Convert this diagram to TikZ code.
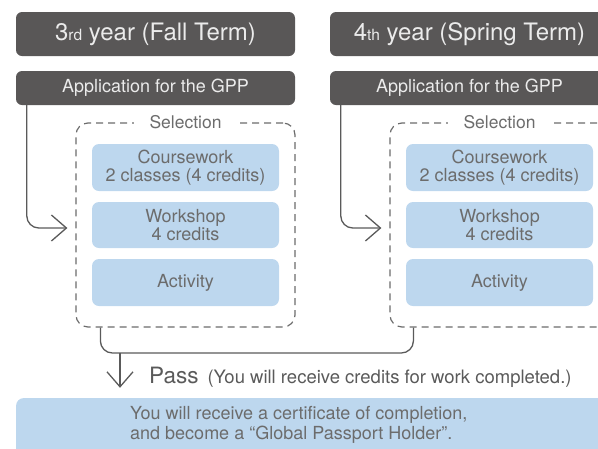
\documentclass[tikz,border=0pt]{standalone}
\usepackage{fontspec}
\setmainfont{TeX Gyre Heros}
\usetikzlibrary{arrows.meta}
\definecolor{dark}{HTML}{595757}
\definecolor{lblue}{HTML}{BDD7EE}
\definecolor{tgray}{HTML}{6C6C6C}
\definecolor{lgray}{HTML}{5A5A5A}
\begin{document}
\begin{tikzpicture}[x=1pt,y=-1pt,
  hdr/.style={fill=dark, rounded corners=6pt, minimum width=279pt, inner sep=0pt, text=white!92!black},
  titlebox/.style={hdr, minimum height=44pt, font=\fontsize{24}{24}\selectfont},
  appbox/.style={hdr, minimum height=34pt, font=\fontsize{18}{18}\selectfont},
  selbox/.style={draw=tgray, line width=1.2pt, dash pattern=on 7pt off 5pt, rounded corners=12pt, minimum width=219pt, minimum height=204pt, inner sep=0pt},
  sellabel/.style={fill=white, text=tgray, inner xsep=16pt, inner ysep=2pt, font=\fontsize{17.5}{17.5}\selectfont},
  bluebox/.style={fill=lblue, rounded corners=7pt, minimum width=187pt, minimum height=47pt, inner sep=0pt, align=center, text=tgray, font=\fontsize{18}{18.5}\selectfont},
  conn/.style={draw=lgray, line width=1.3pt},
  arr/.style={conn, -{Straight Barb[length=15pt,width=26pt,line width=1.3pt]}},
  txt/.style={inner sep=0pt, text=tgray, font=\fontsize{18}{20}\selectfont}
]
\useasboundingbox (0,0) rectangle (598,448);
\clip (0,0) rectangle (598,448);

% headers
\node[titlebox] (t1) at (155.5,34) {3{\fontsize{15.5}{15.5}\selectfont rd} year (Fall Term)};
\node[titlebox] (t2) at (469.5,34) {4{\fontsize{15.5}{15.5}\selectfont th} year (Spring Term)};
\node[appbox] (a1) at (155.5,88) {Application for the GPP};
\node[appbox] (a2) at (469.5,88) {Application for the GPP};

% selection boxes
\node[selbox] (s1) at (185.5,225) {};
\node[selbox] (s2) at (499.5,225) {};
\node[sellabel] (l1) at (s1.north) {Selection};
\node[sellabel] (l2) at (s2.north) {Selection};

\node[bluebox] (c1) at (185.5,167.5) {Coursework\\2 classes (4 credits)};
\node[bluebox, minimum height=46pt] (w1) at (185.5,225) {Workshop\\4 credits};
\node[bluebox] (v1) at (185.5,282.5) {Activity};
\node[bluebox] (c2) at (499.5,167.5) {Coursework\\2 classes (4 credits)};
\node[bluebox, minimum height=46pt] (w2) at (499.5,225) {Workshop\\4 credits};
\node[bluebox] (v2) at (499.5,282.5) {Activity};

% side connectors
\draw[arr, rounded corners=12pt, shorten >=8pt] ([xshift=11pt]a1.south west) |- ([yshift=-3pt]s1.west);
\draw[arr, rounded corners=12pt, shorten >=8pt] ([xshift=11pt]a2.south west) |- ([yshift=-3pt]s2.west);

% joining connector
\coordinate (jl) at ([xshift=25pt]s1.south west);
\coordinate (jr) at ([xshift=24pt]s2.south west);
\coordinate (j) at (120,353);
\draw[conn, rounded corners=12pt] (jl) -- (jl |- j) -- (jr |- j) -- (jr);

% result box
\node[fill=lblue, rounded corners=8pt, minimum width=604pt, minimum height=62pt, inner sep=0pt] (b) at (318,429) {};
\draw[arr, shorten >=10pt] (j) -- (j |- b.north);

\node[anchor=base west, inner sep=0pt, text=lgray] (pass) at (149,383)
  {{\fontsize{22.5}{22.5}\selectfont Pass}\hspace{9pt}{\fontsize{18.5}{18.5}\selectfont (You will receive credits for work completed.)}};

\node[txt, anchor=base west] (b1) at (130,419) {You will receive a certificate of completion,};
\node[txt, anchor=base west] (b2) at (130,439) {and become a “Global Passport Holder”.};
\end{tikzpicture}
\end{document}
